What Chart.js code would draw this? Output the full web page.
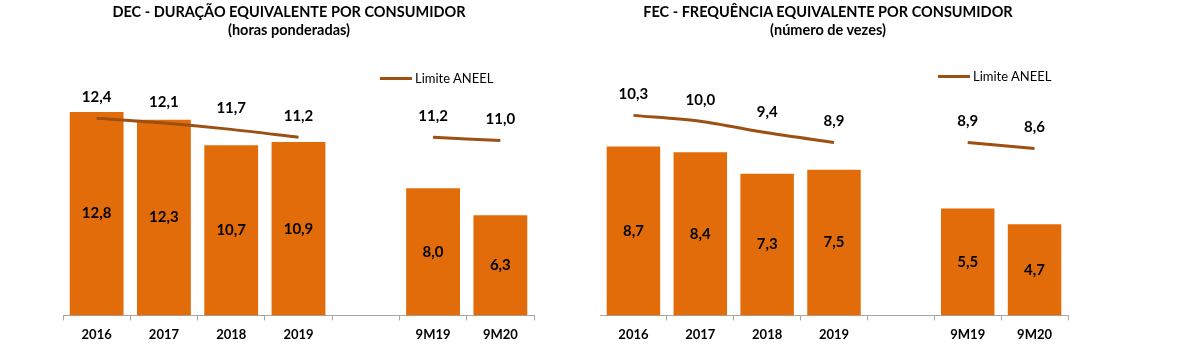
<!DOCTYPE html>
<html>
<head>
<meta charset="utf-8">
<script src="https://cdn.jsdelivr.net/npm/chart.js@4"></script>
<style>
  body { margin: 0; background: #fff; font-family: Lato, sans-serif; }
  #wrap { position: relative; width: 1200px; height: 350px; overflow: hidden; }
  .box { position: absolute; top: 0; width: 600px; height: 350px; }
  .title { position: absolute; font-weight: bold; font-size: 14.5px; color: #000; text-align: center; width: 500px; line-height: 18px; }
  .legend { position: absolute; font-size: 13px; color: #000; display: flex; align-items: center; }
  .legend span.sw { display: inline-block; width: 32px; height: 3px; background: #9c5012; margin-right: 3px; }
</style>
</head>
<body>
<div id="wrap">
  <div class="box" style="left:0"><canvas id="decChart" width="600" height="350"></canvas></div>
  <div class="box" style="left:600px"><canvas id="fecChart" width="600" height="350"></canvas></div>
  <div class="title" style="left:39px; top:3px">DEC - DURAÇÃO EQUIVALENTE POR CONSUMIDOR<br>(horas ponderadas)</div>
  <div class="title" style="left:578px; top:3px">FEC - FREQUÊNCIA EQUIVALENTE POR CONSUMIDOR<br>(número de vezes)</div>
  <div class="legend" style="left:380px; top:70px"><span class="sw"></span>Limite ANEEL</div>
  <div class="legend" style="left:938px; top:68px"><span class="sw"></span>Limite ANEEL</div>
</div>
<script>
var labels = ['2016', '2017', '2018', '2019', '', '9M19', '9M20'];
var decValues = [12.8, 12.3, 10.7, 10.9, null, 8.0, 6.3];
var decLimit = [12.4, 12.1, 11.7, 11.2, null, 11.2, 11.0];
var fecValues = [8.7, 8.4, 7.3, 7.5, null, 5.5, 4.7];
var fecLimit = [10.3, 10.0, 9.4, 8.9, null, 8.9, 8.6];

var barColor = '#e36c0a';
var lineColor = '#9c5012';

function fmt(v) {
    return v.toFixed(1).replace('.', ',');
}

// draws the numbers: inside the bars (middle) and above the line points
var valueLabels = {
    id: 'valueLabels',
    afterDatasetsDraw: function(chart) {
        var c = chart.ctx;
        c.save();
        c.font = 'bold 15px Lato';
        c.fillStyle = '#000';
        c.textAlign = 'center';
        c.textBaseline = 'middle';
        chart.data.datasets.forEach(function(ds, i) {
            var meta = chart.getDatasetMeta(i);
            meta.data.forEach(function(el, j) {
                var v = ds.data[j];
                if (v === null) return;
                if (ds.type === 'line') {
                    c.fillText(fmt(v), el.x, el.y - 21);
                } else {
                    c.fillText(fmt(v), el.x, (el.y + el.base) / 2);
                }
            });
        });
        c.restore();
    }
};

function makeChart(id, values, limit, yMax, pad) {
    var ctx = document.getElementById(id).getContext('2d');
    return new Chart(ctx, {
        type: 'bar',
        data: {
            labels: labels,
            datasets: [{
                type: 'line',
                label: 'Limite ANEEL',
                data: limit,
                borderColor: lineColor,
                borderWidth: 3,
                pointRadius: 0,
                tension: 0.3,
                spanGaps: false,
                order: 0
            }, {
                label: 'Realizado',
                data: values,
                backgroundColor: barColor,
                barPercentage: 0.8,
                categoryPercentage: 1.0,
                order: 1
            }]
        },
        options: {
            responsive: false,
            animation: false,
            layout: { padding: pad },
            plugins: {
                legend: { display: false },
                tooltip: { enabled: false }
            },
            scales: {
                x: {
                    offset: true,
                    border: { color: '#a6a6a6', width: 1 },
                    grid: { offset: true, drawOnChartArea: false, color: '#a6a6a6', tickLength: 5 },
                    ticks: { color: '#000', padding: 7, font: { family: 'Lato', size: 13, weight: 'bold' } }
                },
                y: { display: false, min: 0, max: yMax }
            }
        },
        plugins: [valueLabels]
    });
}

makeChart('decChart', decValues, decLimit, 16, { left: 63, right: 66, top: 61, bottom: 0 });
makeChart('fecChart', fecValues, fecLimit, 13.1, { left: 0, right: 132, top: 61, bottom: 0 });
</script>
</body>
</html>
